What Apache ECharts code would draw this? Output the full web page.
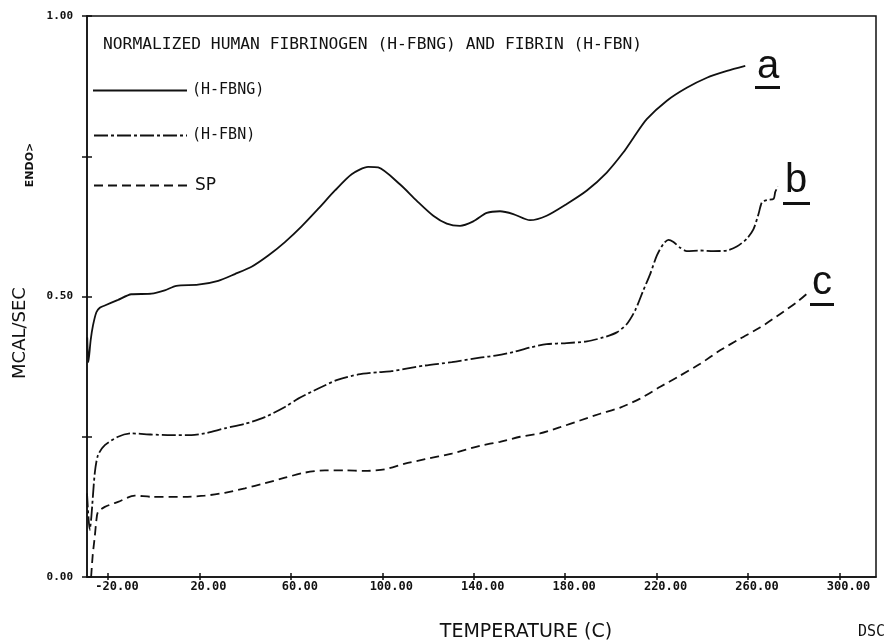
<!DOCTYPE html>
<html>
<head>
<meta charset="utf-8">
<title>DSC - normalized human fibrinogen and fibrin</title>
<script src="https://cdn.jsdelivr.net/npm/echarts@6.0.0/dist/echarts.min.js"></script>
<style>
  html, body { margin: 0; padding: 0; background: #fff; }
  #chart { width: 886px; height: 642px; }
</style>
</head>
<body>
<div id="chart"></div>
<script>
// values: temperature (C) and heat flow (mcal/sec)
var fbngTemp = [-29.1, -28.6, -27.6, -26.6, -25.1, -23.6, -21.4, -15.6, -9.8, -1.0,
  4.8, 9.9, 19.4, 28.2, 35.5, 42.8, 50.1, 57.4, 64.7, 71.9,
  79.3, 86.6, 93.8, 98.2, 107.7, 115.0, 122.3, 128.2, 134.0, 139.8,
  145.7, 151.5, 157.3, 164.6, 171.9, 180.7, 189.5, 198.2, 205.5, 209.9,
  215.7, 224.5, 233.2, 242.0, 250.8, 258.8];
var fbngVal = [0.427, 0.383, 0.422, 0.448, 0.472, 0.480, 0.484, 0.494, 0.504, 0.505,
  0.511, 0.519, 0.521, 0.528, 0.540, 0.553, 0.573, 0.597, 0.625, 0.656,
  0.689, 0.718, 0.731, 0.730, 0.700, 0.671, 0.644, 0.630, 0.626, 0.634,
  0.649, 0.652, 0.647, 0.636, 0.644, 0.665, 0.689, 0.721, 0.757, 0.783,
  0.816, 0.849, 0.872, 0.890, 0.902, 0.911];

var fbnTemp = [-29.2, -28.0, -27.3, -25.8, -24.4, -21.4, -15.6, -9.8, -1.0, 7.8,
  16.5, 22.3, 31.1, 39.9, 48.6, 57.4, 63.2, 72.0, 80.7, 89.5,
  98.2, 104.1, 109.9, 118.7, 130.4, 142.7, 150.1, 157.3, 164.6, 171.9,
  180.7, 189.5, 196.7, 202.6, 207.0, 210.6, 214.2, 217.2, 220.1, 223.0,
  225.2, 227.4, 230.3, 233.2, 239.1, 244.9, 250.8, 255.1, 259.5, 262.4,
  264.6, 266.1, 268.3, 271.2, 271.9, 273.1];
var fbnVal = [0.149, 0.084, 0.107, 0.185, 0.217, 0.235, 0.250, 0.256, 0.254, 0.253,
  0.253, 0.256, 0.265, 0.273, 0.285, 0.303, 0.318, 0.336, 0.352, 0.361,
  0.365, 0.367, 0.371, 0.377, 0.383, 0.391, 0.395, 0.401, 0.409, 0.415,
  0.417, 0.420, 0.427, 0.436, 0.451, 0.475, 0.511, 0.540, 0.573, 0.594,
  0.601, 0.597, 0.587, 0.581, 0.582, 0.581, 0.582, 0.589, 0.603, 0.620,
  0.647, 0.668, 0.672, 0.674, 0.686, 0.696];

var spTemp = [-27.4, -26.7, -25.8, -25.1, -24.4, -21.4, -15.6, -8.3, -1.0, 13.6,
  22.3, 31.1, 39.9, 48.6, 57.4, 66.1, 74.9, 83.6, 92.4, 101.1,
  109.9, 118.7, 130.4, 142.8, 151.5, 160.3, 169.0, 177.8, 186.5, 195.3,
  204.1, 212.8, 221.6, 230.3, 239.1, 247.8, 256.6, 265.4, 274.1, 281.4,
  285.8];
var spVal = [0, 0.039, 0.072, 0.101, 0.116, 0.125, 0.134, 0.145, 0.143, 0.143,
  0.145, 0.150, 0.158, 0.167, 0.177, 0.186, 0.190, 0.190, 0.189, 0.192,
  0.202, 0.210, 0.220, 0.234, 0.241, 0.250, 0.256, 0.267, 0.279, 0.291,
  0.302, 0.318, 0.339, 0.359, 0.380, 0.404, 0.425, 0.445, 0.469, 0.490,
  0.505];

var xTicks = [-20, 20, 60, 100, 140, 180, 220, 260, 300];
var yLabelled = [0, 0.5, 1];

var ink = '#111';
var mono = "'DejaVu Sans Mono', monospace";
var sans = "'DejaVu Sans', sans-serif";

function pairs(xs, ys) {
  var out = [];
  for (var i = 0; i < xs.length; i++) out.push([xs[i], ys[i]]);
  return out;
}

function curve(name, xs, ys, dash) {
  return {
    name: name,
    type: 'line',
    data: pairs(xs, ys),
    symbol: 'none',
    smooth: 0.25,
    lineStyle: { color: ink, width: 1.8, type: dash },
    itemStyle: { color: ink },
    silent: true
  };
}

// one legend per curve so each row sits where the plotter put it
function legendAt(name, left, top, w, size, family) {
  return {
    data: [name], left: left, top: top, padding: 0,
    itemWidth: w, itemHeight: 14, selectedMode: false,
    itemStyle: { opacity: 0 },
    textStyle: { color: ink, fontSize: size, fontFamily: family }
  };
}

var myChart = echarts.init(document.getElementById('chart'));

var option = {
  backgroundColor: '#fff',
  animation: false,
  title: {
    text: 'NORMALIZED HUMAN FIBRINOGEN (H-FBNG) AND FIBRIN (H-FBN)',
    left: 103, top: 37, padding: 0,
    textStyle: { color: ink, fontSize: 16.3, fontWeight: 'normal', fontFamily: mono }
  },
  legend: [
    legendAt('(H-FBNG)', 92, 83, 94, 15, mono),
    legendAt('(H-FBN)', 93, 128, 93, 15, mono),
    legendAt('SP', 93, 177, 96, 17, sans)
  ],
  grid: {
    left: 87, right: 10, top: 16, bottom: 65,
    show: true, borderColor: ink, borderWidth: 1.5
  },
  xAxis: [{
    type: 'value', min: -29.2, max: 316,
    axisLine: { show: true, onZero: false, lineStyle: { color: ink, width: 1.5 } },
    axisTick: { show: true, customValues: xTicks, inside: true, length: 4, lineStyle: { color: ink, width: 1.5 } },
    axisLabel: {
      customValues: xTicks, margin: 4, padding: [0, 0, 0, 18],
      color: ink, fontSize: 12, fontWeight: 'bold', fontFamily: mono,
      formatter: function (v) { return v.toFixed(2); }
    },
    splitLine: { show: false }
  }, {
    type: 'value', min: -29.2, max: 316, position: 'bottom',
    axisLine: { show: false, onZero: false },
    axisTick: { show: true, customValues: xTicks, length: 3, lineStyle: { color: ink, width: 1.5 } },
    axisLabel: { show: false },
    splitLine: { show: false }
  }],
  yAxis: [{
    type: 'value', min: 0, max: 1, interval: 0.25,
    axisLine: { show: true, onZero: false, lineStyle: { color: ink, width: 1.5 } },
    axisTick: { show: true, length: 5, lineStyle: { color: ink, width: 1.5 } },
    axisLabel: {
      margin: 14, color: ink, fontSize: 11, fontWeight: 'bold', fontFamily: mono,
      formatter: function (v) { return yLabelled.indexOf(v) >= 0 ? v.toFixed(2) : ''; }
    },
    splitLine: { show: false }
  }, {
    type: 'value', min: 0, max: 1, interval: 0.25, position: 'left', offset: 0,
    axisLine: { show: false, onZero: false },
    axisTick: { show: true, inside: true, length: 5, lineStyle: { color: ink, width: 1.5 } },
    axisLabel: { show: false },
    splitLine: { show: false }
  }],
  graphic: [
    { type: 'text', x: 526, y: 632, style: { text: 'TEMPERATURE (C)', font: '19px ' + sans, fill: ink, align: 'center', verticalAlign: 'middle' } },
    { type: 'text', x: 885, y: 632, style: { text: 'DSC', font: '15px ' + mono, fill: ink, align: 'right', verticalAlign: 'middle' } },
    { type: 'text', x: 20, y: 333, rotation: Math.PI / 2, style: { text: 'MCAL/SEC', font: '18px ' + sans, fill: ink, align: 'center', verticalAlign: 'middle' } },
    { type: 'text', x: 30, y: 165, rotation: Math.PI / 2, style: { text: 'ENDO>', font: 'bold 11px ' + sans, fill: ink, align: 'center', verticalAlign: 'middle' } },
    { type: 'text', x: 768, y: 67, style: { text: 'a', font: "40px 'Liberation Sans', Arial, sans-serif", fill: ink, align: 'center', verticalAlign: 'middle' } },
    { type: 'rect', shape: { x: 755, y: 86, width: 25, height: 3 }, style: { fill: ink } },
    { type: 'text', x: 796, y: 181, style: { text: 'b', font: "40px 'Liberation Sans', Arial, sans-serif", fill: ink, align: 'center', verticalAlign: 'middle' } },
    { type: 'rect', shape: { x: 783, y: 202, width: 27, height: 3 }, style: { fill: ink } },
    { type: 'text', x: 822, y: 283, style: { text: 'c', font: "40px 'Liberation Sans', Arial, sans-serif", fill: ink, align: 'center', verticalAlign: 'middle' } },
    { type: 'rect', shape: { x: 810, y: 303, width: 24, height: 3 }, style: { fill: ink } }
  ],
  series: [
    curve('(H-FBNG)', fbngTemp, fbngVal, 'solid'),
    curve('(H-FBN)', fbnTemp, fbnVal, [14, 3, 3, 3]),
    curve('SP', spTemp, spVal, [9, 5])
  ]
};

myChart.setOption(option);
</script>
</body>
</html>
